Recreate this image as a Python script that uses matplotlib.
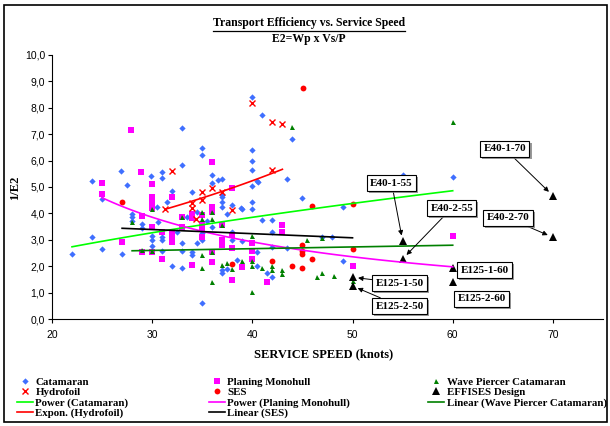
import matplotlib
matplotlib.use("Agg")
import matplotlib.pyplot as plt
import matplotlib.patheffects as pe
from matplotlib.lines import Line2D
from matplotlib.patches import Rectangle
from matplotlib.ticker import FuncFormatter
import numpy as np

# --- data: service speed (knots) and 1/E2 for each craft type ---
cat_speed = [40, 33, 35, 35, 40, 40, 40, 40, 33, 26.9, 31, 31, 29.9, 24, 27.5, 36, 36, 36.6, 37,
             34, 37, 32, 40.6, 41, 44, 43.5, 40.5, 45, 49, 55, 40, 40, 38.9, 41, 42, 42, 39, 42,
             43.5, 47, 48, 49, 42, 41.5, 60, 25, 22, 24, 25, 27, 28, 28, 28, 29, 29, 30.5, 30, 30,
             30, 31, 31, 30.6, 31.5, 32.5, 31, 32, 33, 33, 33, 33.5, 34, 34, 34.5, 34.5, 35, 35,
             35, 35.5, 36, 37, 37, 37, 37, 37, 37.5, 38, 38, 38, 38.5, 39, 40.5, 40.5, 37.5]
cat_e2 = [8.39, 7.22, 6.49, 6.21, 6.40, 5.97, 5.64, 5.04, 5.84, 5.60, 5.55, 5.33, 5.40, 5.21, 5.06,
          5.45, 5.14, 5.26, 5.29, 4.80, 4.61, 4.86, 5.20, 7.73, 6.81, 5.30, 5.23, 4.60, 4.26, 5.45,
          4.45, 4.16, 4.19, 3.75, 3.75, 3.29, 2.97, 2.74, 2.68, 3.10, 3.10, 2.22, 1.61, 1.76, 5.37,
          4.55, 2.47, 3.10, 2.66, 2.47, 3.98, 3.85, 3.73, 3.60, 3.44, 4.26, 3.14, 2.98, 2.77, 3.10,
          3.00, 3.67, 4.42, 3.29, 2.58, 2.03, 2.89, 2.58, 1.95, 3.88, 2.55, 2.42, 4.07, 2.87, 0.60,
          3.25, 3.00, 3.73, 3.50, 4.70, 4.45, 4.26, 1.86, 1.74, 3.98, 4.32, 3.31, 3.00, 2.24, 4.16,
          2.53, 2.03, 1.89]

plan_speed = [27.9, 28.9, 36, 25, 30, 38, 25, 30, 32, 43, 43, 40, 40, 40, 50, 41.5, 39, 60, 27, 29,
              29, 30, 30, 30, 30, 31, 31, 32, 32, 32, 33, 33, 34, 34, 34, 35, 35, 35, 35, 36, 36,
              36, 36, 37, 37, 37, 38, 38, 38, 30]
plan_e2 = [7.15, 5.55, 5.96, 5.16, 5.11, 4.97, 4.72, 4.61, 4.61, 3.56, 3.31, 2.87, 2.58, 2.28, 2.03,
           1.42, 1.99, 3.15, 2.91, 3.92, 2.56, 4.39, 4.20, 3.50, 2.55, 3.31, 2.27, 3.31, 3.12, 2.93,
           3.85, 3.50, 3.98, 3.83, 2.05, 3.93, 3.60, 3.44, 3.12, 4.26, 4.07, 2.55, 2.17, 3.56, 3.00,
           2.80, 3.18, 2.68, 1.49, 4.55]

wpc_speed = [44, 60, 40, 45.5, 47, 39, 40, 40, 41, 42, 42, 43, 43, 46.5, 47, 48.2, 40, 30, 28, 30,
             29, 33, 35, 35, 35, 35, 36, 36, 36, 36, 37, 37, 37.5, 38, 50]
wpc_e2 = [7.28, 7.47, 3.16, 3.00, 3.06, 2.19, 2.20, 2.03, 1.93, 2.03, 1.87, 1.86, 1.70, 1.61, 1.76,
          1.65, 1.04, 4.16, 3.69, 2.57, 2.60, 3.85, 4.06, 3.78, 2.42, 1.95, 4.07, 3.78, 2.55, 1.42,
          3.56, 2.05, 2.14, 1.89, 1.45]

hyd_speed = [40, 32, 35, 36, 37, 42, 43, 42, 34, 34, 35, 38, 34.4, 31.3]
hyd_e2 = [8.16, 5.60, 4.82, 4.95, 4.82, 7.47, 7.37, 5.64, 4.41, 4.20, 4.50, 4.13, 3.78, 4.16]

ses_speed = [45.1, 46, 50, 45, 45, 45, 46, 50, 42, 44, 45, 27, 38]
ses_e2 = [8.73, 4.28, 4.36, 2.80, 2.59, 2.47, 2.28, 2.65, 2.22, 2.03, 1.93, 4.42, 2.10]

eff_names = ["E125-1-50", "E125-2-50", "E40-1-55", "E40-2-55",
             "E125-1-60", "E125-2-60", "E40-1-70", "E40-2-70"]
eff_speed = [50, 50, 55, 55, 60, 60, 70, 70]
eff_e2 = [1.59, 1.26, 2.96, 2.28, 1.93, 1.42, 4.67, 3.10]
# label box centres (speed, 1/E2) and whether an arrow points at the design
eff_label_pos = [(54.7, 1.37), (54.7, 0.50), (53.9, 5.15), (59.9, 4.20),
                 (63.2, 1.86), (62.9, 0.77), (65.2, 6.44), (65.5, 3.83)]
eff_arrow = [True, True, True, True, False, False, True, True]

# trendline coefficients and ranges
cat_pow = (0.469, 0.571, 22, 60)       # y = a * x**b
plan_pow = (101.0, -0.960, 25, 60)     # y = a * x**b
hyd_exp = (1.817, 0.02646, 31.3, 43)   # y = a * exp(b x)
ses_lin = (-0.01565, 3.862, 27, 50)    # y = m x + c
wpc_lin = (0.00656, 2.406, 28, 60)     # y = m x + c

BLUE = "#3F6FFF"
SERIF = "Liberation Serif"
SANS = "Liberation Sans"

fig = plt.figure(figsize=(6.1, 4.26), dpi=100)
ax = fig.add_axes([0.0852, 0.2505, 0.9033, 0.6211])

ax.plot(cat_speed, cat_e2, "D", color=BLUE, ms=3.2, mew=0, label="Catamaran")
ax.plot(plan_speed, plan_e2, "s", color="#FF00FF", ms=3.8, mew=0, label="Planing Monohull")
ax.plot(wpc_speed, wpc_e2, "^", color="#008000", ms=3.6, mew=0, label="Wave Piercer Catamaran")
ax.plot(hyd_speed, hyd_e2, "x", color="#FF0000", ms=4.5, mew=1.0, label="Hydrofoil")
ax.plot(ses_speed, ses_e2, "o", color="#FF0000", ms=4.2, mew=0, label="SES")
ax.plot(eff_speed, eff_e2, "^", color="black", ms=6, mew=0, label="EFFISES Design")

a, b, x0, x1 = cat_pow
xs = np.linspace(x0, x1, 100)
ax.plot(xs, a * xs ** b, color="#00FF00", lw=1.2, label="Power (Catamaran)")
a, b, x0, x1 = plan_pow
xs = np.linspace(x0, x1, 100)
ax.plot(xs, a * xs ** b, color="#FF00FF", lw=1.2, label="Power (Planing Monohull)")
m, c, x0, x1 = wpc_lin
xs = np.linspace(x0, x1, 2)
ax.plot(xs, m * xs + c, color="#008000", lw=1.2, label="Linear (Wave Piercer Catamaran)")
a, b, x0, x1 = hyd_exp
xs = np.linspace(x0, x1, 100)
ax.plot(xs, a * np.exp(b * xs), color="#FF0000", lw=1.2, label="Expon. (Hydrofoil)")
m, c, x0, x1 = ses_lin
xs = np.linspace(x0, x1, 2)
ax.plot(xs, m * xs + c, color="black", lw=1.2, label="Linear (SES)")

# design labels in boxes with a grey drop shadow
for name, px, py, (tx, ty), arrow in zip(eff_names, eff_speed, eff_e2, eff_label_pos, eff_arrow):
    props = dict(arrowstyle="-|>", color="black", lw=0.7, mutation_scale=7,
                 shrinkA=0, shrinkB=4) if arrow else None
    t = ax.annotate(name, xy=(px, py), xytext=(tx, ty), ha="center", va="center",
                    fontsize=8, fontweight="bold", family=SERIF,
                    bbox=dict(boxstyle="square,pad=0.3", fc="white", ec="black", lw=0.8),
                    arrowprops=props, zorder=5)
    t.get_bbox_patch().set_path_effects([
        pe.SimplePatchShadow(offset=(1.5, -1.5), shadow_rgbFace="0.5", alpha=0.8),
        pe.Normal()])

ax.set_xlim(20, 75)
ax.set_ylim(0, 10)
ax.set_xticks(range(20, 71, 10))
ax.set_yticks(np.arange(0, 10.01, 1))
ax.yaxis.set_major_formatter(FuncFormatter(lambda v, p: f"{v:.1f}".replace(".", ",")))
for s in ("top", "right"):
    ax.spines[s].set_visible(False)
for s in ("left", "bottom"):
    ax.spines[s].set_linewidth(0.8)
ax.tick_params(direction="out", length=3, width=0.8, labelsize=7.5, pad=2)
for lab in ax.get_xticklabels() + ax.get_yticklabels():
    lab.set_family(SANS)
ax.tick_params(axis="x", pad=5)

fig.text(0.531, 0.169, "SERVICE SPEED (knots)", ha="center", va="center",
         family=SERIF, fontweight="bold", fontsize=9)
fig.text(0.024, 0.56, "1/E2", ha="center", va="center", rotation=90,
         family=SERIF, fontweight="bold", fontsize=9)

title = fig.text(0.507, 0.946, "Transport Efficiency vs. Service Speed", ha="center",
                 va="center", family=SERIF, fontweight="bold", fontsize=8.5)
fig.text(0.507, 0.909, "E2=Wp x Vs/P", ha="center", va="center",
         family=SERIF, fontweight="bold", fontsize=8.5)

# legend: three columns laid out row-wise
handles, labels = ax.get_legend_handles_labels()
lookup = dict(zip(labels, handles))
columns = [
    (0.028, ["Catamaran", "Hydrofoil", "Power (Catamaran)", "Expon. (Hydrofoil)"]),
    (0.342, ["Planing Monohull", "SES", "Power (Planing Monohull)", "Linear (SES)"]),
    (0.702, ["Wave Piercer Catamaran", "EFFISES Design", "Linear (Wave Piercer Catamaran)"]),
]
for x, names in columns:
    fig.legend([lookup[n] for n in names], names, loc="upper left",
               bbox_to_anchor=(x, 0.114), frameon=False, handlelength=1.5,
               handletextpad=0.2, labelspacing=0.06, borderpad=0, borderaxespad=0,
               prop=dict(family=SERIF, weight="bold", size=7.8))

# outer chart border
fig.add_artist(Rectangle((0.0066, 0.0094), 0.988, 0.9786, transform=fig.transFigure,
                         fill=False, ec="black", lw=1.2))

# underline the main title
fig.canvas.draw()
bb = title.get_window_extent().transformed(fig.transFigure.inverted())
fig.add_artist(Line2D([bb.x0, bb.x1], [bb.y0 - 0.004, bb.y0 - 0.004],
                      transform=fig.transFigure, color="black", lw=0.9))

fig.savefig("out.png", dpi=100)
